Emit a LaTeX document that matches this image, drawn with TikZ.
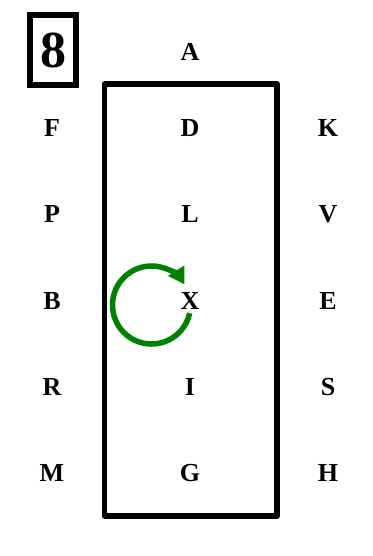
\documentclass[tikz,border=0pt]{standalone}
\usepackage{fontspec}
\setmainfont{Liberation Serif}
\usetikzlibrary{arrows.meta,positioning}
\definecolor{SeatGreen}{RGB}{0,128,0}
\tikzset{
  letra/.style={font=\fontsize{26}{26}\selectfont\bfseries, inner sep=0pt},
  numero/.style={draw, line width=6pt, font=\fontsize{52}{52}\selectfont\bfseries,
                 minimum width=46pt, minimum height=70pt, inner sep=0pt},
  moldura/.style={draw, line width=5.5pt, line join=round},
  giro/.style={SeatGreen, line width=5.5pt, -{Triangle[length=16pt,width=18pt]}},
}
\begin{document}
\begin{tikzpicture}[x=1pt,y=-1pt]
  \useasboundingbox (0,0) rectangle (372,556);

  % numero da figura
  \node[numero] (num) at (53,50.5) {8};

  % letra no topo, fora da moldura
  \node[letra] (A) at (190,52) {A};

  % grade de letras: esquerda / centro / direita
  \foreach \y/\l/\c/\r in {128/F/D/K, 214/P/L/V, 301/B/X/E, 387/R/I/S, 473/M/G/H}{
    \node[letra] (\l) at (52,\y) {\l};
    \node[letra] (\c) at (190,\y) {\c};
    \node[letra] (\r) at (328,\y) {\r};
  }

  % moldura central
  \draw[moldura] (104.5,84) rectangle (277,516);

  % seta circular junto ao X
  \coordinate (giroc) at (151.5,305);
  \draw[giro] ([shift={(12:39)}]giroc) arc[start angle=12, end angle=328, radius=39];
\end{tikzpicture}
\end{document}
